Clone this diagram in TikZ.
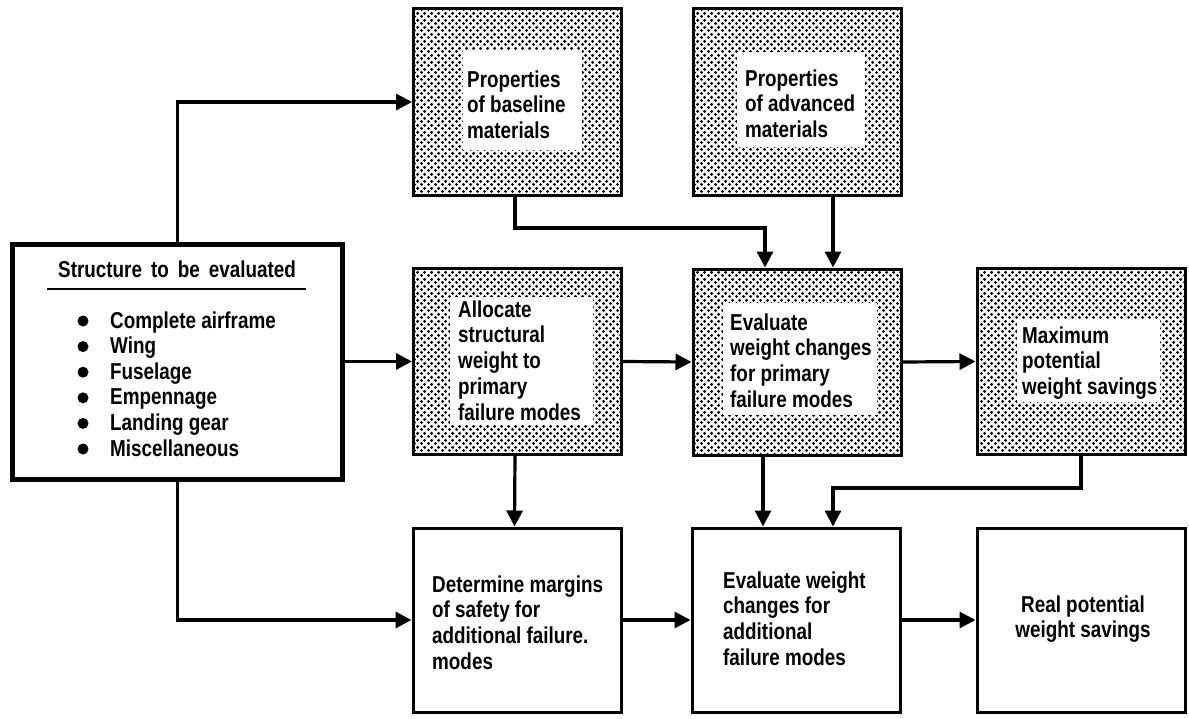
\documentclass[tikz,border=0pt]{standalone}
\usepackage{fontspec}
\setmainfont{Liberation Sans}[FakeStretch=0.82]
\usetikzlibrary{arrows.meta,patterns}

% halftone dot screen used for the shaded boxes
\pgfdeclarepatternformonly{stipple}{\pgfqpoint{0pt}{0pt}}{\pgfqpoint{7pt}{7pt}}{\pgfqpoint{7pt}{7pt}}{%
  \pgfpathcircle{\pgfqpoint{1.75pt}{1.75pt}}{1.75pt}%
  \pgfpathcircle{\pgfqpoint{5.25pt}{5.25pt}}{1.75pt}%
  \pgfusepath{fill}}

\begin{document}
\begin{tikzpicture}[x=1pt,y=-1pt,
  txt/.style={font=\fontsize{23}{25.8}\selectfont\bfseries, inner sep=0pt, align=left},
  plainbox/.style={draw, line width=3pt, inner sep=0pt, minimum width=208pt, fill=white},
  shadedbox/.style={plainbox, pattern=stipple},
  panel/.style={fill=white, inner sep=0pt},
  dot/.style={circle, fill, inner sep=0pt, minimum size=11pt},
  arr/.style={line width=3.2pt, -{Triangle[length=16pt,width=16pt]}}]

\fill[white] (0,0) rectangle (1189,718);
\useasboundingbox (0,0) rectangle (1189,718);

% ---- boxes ----
\node[draw, line width=5pt, inner sep=0pt, minimum width=330pt, minimum height=235pt] (struct) at (177.5,362) {};

\node[shadedbox, minimum height=187pt] (base)  at (517.5,102) {};
\node[shadedbox, minimum height=187pt] (adv)   at (797,102) {};
\node[shadedbox, minimum height=186pt] (alloc) at (517.5,361.5) {};
\node[shadedbox, minimum height=186pt] (evp)   at (797,362) {};
\node[shadedbox, minimum height=186pt] (maxs)  at (1081,361.5) {};
\node[plainbox, minimum height=184pt] (det)  at (517,620) {};
\node[plainbox, minimum height=184pt] (eva)  at (796,620) {};
\node[plainbox, minimum height=184pt] (real) at (1081,620) {};

% white panels inside the shaded boxes
\node[panel, minimum width=119pt, minimum height=100pt] (base-in)  at (522.5,100) {};
\node[panel, minimum width=128pt, minimum height=95pt]  (adv-in)   at (801,99.5) {};
\node[panel, minimum width=143pt, minimum height=128pt] (alloc-in) at (521.5,361) {};
\node[panel, minimum width=154pt, minimum height=112pt] (evp-in)   at (800,359) {};
\node[panel, minimum width=143pt, minimum height=82pt]  (maxs-in)  at (1088.5,361) {};

% ---- texts (anchored at the baseline of the last line) ----
\node[txt, anchor=base west] (base-t)  at (467,138.6)  {Properties\\of baseline\\materials};
\node[txt, anchor=base west] (adv-t)   at (745,137.6)  {Properties\\of advanced\\materials};
\node[txt, anchor=base west] (alloc-t) at (458,420.2) {Allocate\\structural\\weight to\\primary\\failure modes};
\node[txt, anchor=base west] (evp-t)   at (730,407.4) {Evaluate\\weight changes\\for primary\\failure modes};
\node[txt, anchor=base west] (maxs-t)  at (1022,394.6) {Maximum\\potential\\weight savings};
\node[txt, anchor=base west] (det-t)   at (432,669.4) {Determine margins\\of safety for\\additional failure.\\modes};
\node[txt, anchor=base west] (eva-t)   at (723,665.4) {Evaluate weight\\changes for\\additional\\failure modes};
\node[txt, anchor=base, align=center] (real-t) at (1083,637.8) {Real potential\\weight savings};

% structure list
\node[txt, anchor=base] (head) at (177,277) {\spaceskip=9pt Structure to be evaluated};
\draw[line width=2pt] (47,289) -- (306,289);
\foreach \t [count=\i from 0] in {Complete airframe, Wing, Fuselage, Empennage, Landing gear, Miscellaneous} {
  \node[txt, anchor=base west] (item\i) at (110, 328+25.6*\i) {\t};
  \node[dot] (dot\i) at (83, 321+25.6*\i) {};
}

% ---- connectors ----
\coordinate (j1) at (765,228);
\coordinate (j2) at (833,488);
\coordinate (k1) at (763,0);

\draw[arr] (struct.north) |- (base.west);
\draw[arr] (struct.east |- alloc.west) -- (alloc.west);
\draw[arr] (struct.south) |- (det.west);
\draw[arr] ([xshift=-2.5pt]base.south) |- (j1) -- (j1 |- evp.north);
\draw[arr] ([xshift=36pt]adv.south) -- ([xshift=36pt]evp.north);
\draw[arr] (alloc.east) -- (evp.west);
\draw[arr] (evp.east) -- (maxs.west);
\draw[arr] ([xshift=-2.5pt]alloc.south) -- ([xshift=-2.5pt]det.north);
\draw[arr] (evp.south -| k1) -- (eva.north -| k1);
\draw[arr] (maxs.south) |- (j2) -- (j2 |- eva.north);
\draw[arr] (det.east) -- (eva.west);
\draw[arr] (eva.east) -- (real.west);
\end{tikzpicture}
\end{document}
